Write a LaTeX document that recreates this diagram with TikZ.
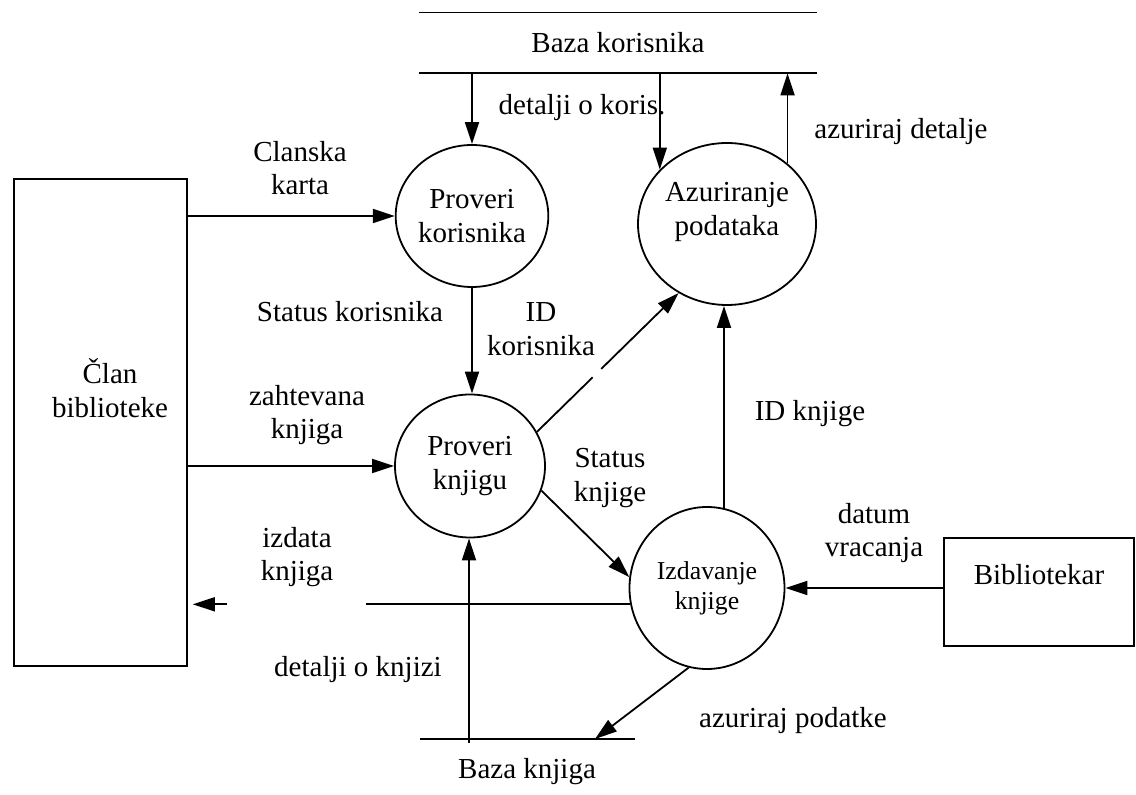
\documentclass[tikz,border=0pt]{standalone}
\usepackage{fontspec}
\setmainfont{Liberation Serif}
\usetikzlibrary{arrows.meta,shapes.geometric,calc}

\begin{document}
\begin{tikzpicture}[x=0.5pt,y=-0.5pt,
  every node/.style={font=\fontsize{14.5}{16.8}\selectfont, inner sep=0pt, align=center},
  proc/.style={draw, ellipse, line width=0.9pt},
  ext/.style={draw, rectangle, line width=0.8pt},
  flow/.style={line width=0.9pt, -{Triangle[length=11pt,width=7pt]}},
  plain/.style={line width=0.9pt},
]
\useasboundingbox (0,0) rectangle (1136,795);

% external entities
\node[ext, minimum width=86.5pt, minimum height=243.5pt] (clan) at (100.5,422.5) {};
\node (clantxt) at (110,388) {Član\\biblioteke};
\node[ext, minimum width=95pt, minimum height=54pt] (bib) at (1039,592) {};
\node (bibtxt) at (1039,575) {Bibliotekar};

% processes
\node[proc, minimum width=72.5pt, minimum height=71pt] (pkor) at (472,216) {Proveri\\korisnika};
\node[proc, minimum width=89pt, minimum height=81pt,
      label={[name=azutxt, align=center, yshift=6pt]center:Azuriranje\\podataka}] (azu) at (727,224) {};
\node[proc, minimum width=75pt, minimum height=71.5pt] (pkn) at (470,466) {Proveri\\knjigu};
\node[proc, minimum width=77.5pt, minimum height=81pt, font=\fontsize{12.9}{15}\selectfont] (izd) at (707,588) {Izdavanje\\knjige};

% data store: Baza korisnika
\node[minimum width=199pt, minimum height=30pt] (bk) at (618,43) {Baza korisnika};
\draw[plain] (bk.north west) -- (bk.north east) (bk.south west) -- (bk.south east);

% data store: Baza knjiga
\coordinate (bknL) at (420,739);
\coordinate (bknR) at (635,739);
\draw[plain] (bknL) -- (bknR);
\node (bkntxt) at (527,772) {Baza knjiga};
\coordinate (bknIn) at (595,739);
\coordinate (bknOut) at (469,743);

% data flows
\draw[flow] (bk.south -| pkor.north) -- (pkor.north);
\draw[flow] (bk.south -| azu.141.6) -- (azu.141.6);
\draw[flow] (azu.45) -- (azu.45 |- bk.south);
\draw[flow] (pkor.west -| clan.east) -- (pkor.west);
\draw[flow] (pkn.west -| clan.east) -- (pkn.west);
\draw[flow] (pkor.south) -- (pkor.south |- pkn.north);
\draw[flow, dash pattern=on 39pt off 6pt on 300pt] (pkn.27) -- (azu.235);
\draw[flow] (pkn.-19) -- (izd.172.6);
\draw[flow] (izd.78.5) -- (izd.78.5 |- azu.south);
\draw[flow] (bib.west |- izd.east) -- (izd.east);
\draw[flow, dash pattern=on 132pt off 69.5pt on 100pt, shorten >=2.5pt] (izd.192.7) -- (izd.192.7 -| clan.east);
\draw[flow] (izd.-103) -- (bknIn);
\draw[flow] (bknOut) -- (bknOut |- pkn.south);

% flow labels
\node (lclan) at (300,168) {Clanska\\karta};
\node (lstk) at (350,312) {Status korisnika};
\node (lidk) at (541,329) {ID\\korisnika};
\node (ldk) at (582,108) {detalji o koris.};
\node (lad) at (901,132) {azuriraj detalje};
\node (lzk) at (307,415) {zahtevana\\knjiga};
\node (lsk) at (610,478) {Status\\knjige};
\node (lidkn) at (810,414) {ID knjige};
\node (lik) at (297,557) {izdata\\knjiga};
\node (ldkn) at (358,670) {detalji o knjizi};
\node (lap) at (793,721) {azuriraj podatke};
\node (ldv) at (874,533) {datum\\vracanja};
\end{tikzpicture}
\end{document}
